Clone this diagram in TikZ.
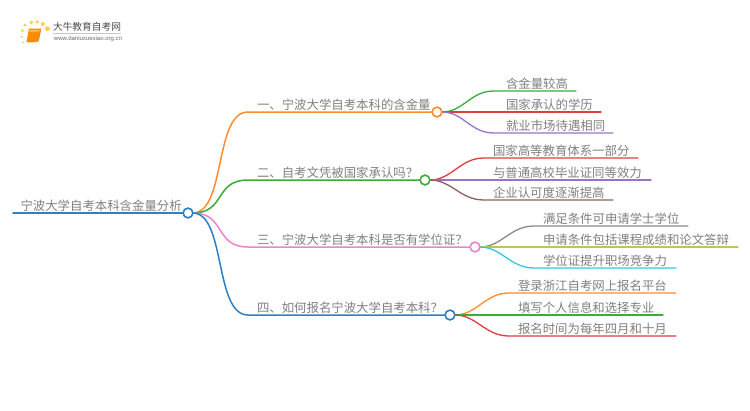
\documentclass[tikz,border=0pt]{standalone}
\usepackage{fontspec}
\setmainfont{Noto Sans CJK SC}
\newfontfamily\latinf{Liberation Sans}
\definecolor{cOrange}{HTML}{FF8C2E}
\definecolor{cGreen}{HTML}{3CAB3C}
\definecolor{cRed}{HTML}{DF3D3E}
\definecolor{cPurple}{HTML}{9B72C8}
\definecolor{cBrown}{HTML}{8F5F55}
\definecolor{cPink}{HTML}{E985CC}
\definecolor{cGray}{HTML}{8A8A8A}
\definecolor{cOlive}{HTML}{C4C44A}
\definecolor{cCyan}{HTML}{2FCBDD}
\definecolor{cBlue}{HTML}{2E80C2}
\definecolor{cText}{HTML}{808080}
\tikzset{
 x=1pt,y=-1pt,
 lbl/.style={anchor=base west,inner sep=0pt,outer sep=0pt,text=cText,font=\fontsize{12.4pt}{14pt}\selectfont},
 hub/.style={circle,draw=#1,fill=white,line width=1.5pt,minimum size=9.5pt,inner sep=0pt,outer sep=0pt},
 mainline/.style={draw=#1,line width=1.5pt,line cap=round},
 leafline/.style={draw=#1,line width=1.3pt,line cap=round},
 dot/.style={circle,fill=#1,inner sep=0pt,outer sep=0pt},
}
% \leafrow{name}{hub}{colour}{start of straight}{y}{end x}{text x}{text}
\newcommand{\leafrow}[8]{%
 \coordinate (#1s) at (#4,#5);
 \coordinate (#1e) at (#6,#5);
 \node[lbl] (#1) at (#7,#5-2.8) {#8};
 \draw[leafline=#3] (#2.east) .. controls ([xshift=22pt]#2.east) and ([xshift=-24pt]#1s) .. (#1s) -- (#1e);
}
% \branchrow{name}{colour}{y}{end hub x}{text}
\newcommand{\branchrow}[5]{%
 \node[hub=#2] (#1) at (#4,#3) {};
 \coordinate (#1s) at (248,#3);
 \node[lbl] (#1t) at (257,#3-2.8) {#5};
 \draw[mainline=#2] (root.east) .. controls (226,213) and (214,#3) .. (#1s) -- (#1.west);
}
\begin{document}
\begin{tikzpicture}
\useasboundingbox[fill=white] (0,0) rectangle (750,410);
% logo
\foreach \i/\a/\b/\s in {a/25/25/3,b/31.3/22.4/3.8,c/37.4/21.8/3.8,d/42.8/24/4,e/47.4/28.8/4.8,f/22.4/30.7/2.8,g/21.8/36.7/2.4,h/23.4/42.4/2}
  \node[dot=orange!55!yellow,minimum size=\s pt,opacity=.7] (logo\i) at (\a,\b) {};
\fill[orange!90!yellow] (29,28.5) -- (41,28.5) -- (38.5,41) .. controls (36,42.5) and (30,42.5) .. (26.5,42) -- cycle;
\fill[orange!70!yellow!70] (29.5,30) -- (39.5,30) -- (39,31.5) -- (29.2,31.5) -- cycle;
\draw[orange!70!brown,line width=.5pt] (27,42) -- (38.5,41) -- (41,28.5);
\node[anchor=center,inner sep=0pt,text=black!70,font=\fontsize{9.7pt}{11pt}\selectfont] (logotext) at (87,27) {大牛教育自考网};
\draw[black!22,line width=.6pt] (53,33.2) -- (121,33.2);
\node[anchor=center,inner sep=0pt,text=black!60,font=\latinf\fontsize{6pt}{7pt}\selectfont] (logourl) at (88,38.8) {www.daniuxuexiao.org.cn};
% root
\node[hub=cBlue] (root) at (188,213) {};
\coordinate (roots) at (13,213);
\node[lbl] (roott) at (20.5,210.2) {宁波大学自考本科含金量分析};
\draw[mainline=cBlue] (roots) -- (root.west);
% branches
\branchrow{bA}{cOrange}{112}{437}{一、宁波大学自考本科的含金量}
\branchrow{bB}{cGreen}{180}{425}{二、自考文凭被国家承认吗？}
\branchrow{bC}{cPink}{247}{475}{三、宁波大学自考本科是否有学位证？}
\branchrow{bD}{cBlue}{315}{450}{四、如何报名宁波大学自考本科？}
% leaves
\leafrow{a1}{bA}{cGreen}{494}{91}{576}{506}{含金量较高}
\leafrow{a2}{bA}{cRed}{494}{112}{601}{506}{国家承认的学历}
\leafrow{a3}{bA}{cPurple}{494}{133}{613}{506}{就业市场待遇相同}
\leafrow{b1}{bB}{cRed}{484}{158}{638}{493}{国家高等教育体系一部分}
\leafrow{b2}{bB}{cPurple}{484}{180}{651}{493}{与普通高校毕业证同等效力}
\leafrow{b3}{bB}{cBrown}{484}{200}{613}{493}{企业认可度逐渐提高}
\leafrow{c1}{bC}{cGray}{534}{226}{688}{543}{满足条件可申请学士学位}
\leafrow{c2}{bC}{cOlive}{534}{247}{738}{543}{申请条件包括课程成绩和论文答辩}
\leafrow{c3}{bC}{cCyan}{534}{268}{676}{543}{学位证提升职场竞争力}
\leafrow{d1}{bD}{cOrange}{509}{293}{676}{518}{登录浙江自考网上报名平台}
\leafrow{d2}{bD}{cGreen}{509}{315}{663}{518}{填写个人信息和选择专业}
\leafrow{d3}{bD}{cRed}{509}{336}{676}{518}{报名时间为每年四月和十月}
% redraw hubs on top
\foreach \h/\c in {root/cBlue,bA/cOrange,bB/cGreen,bC/cPink,bD/cBlue}
  \draw[\c,fill=white,line width=1.5pt] (\h) circle (4.8pt);
\end{tikzpicture}
\end{document}
